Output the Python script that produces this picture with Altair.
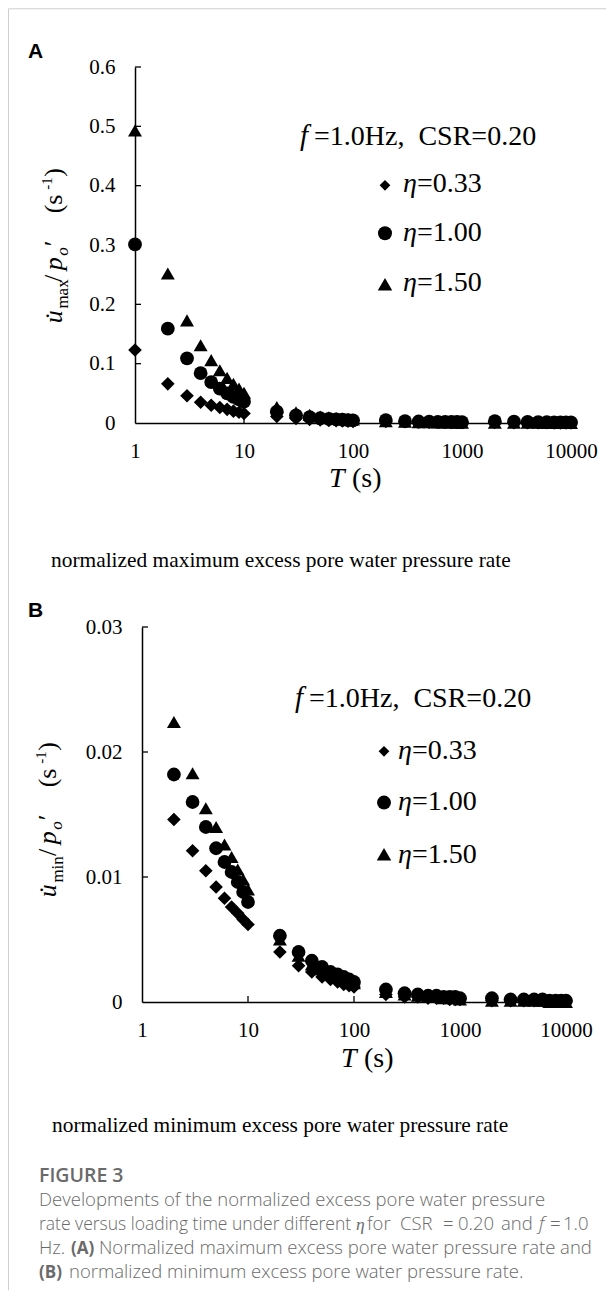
import altair as alt
import pandas as pd

# ---------------- data ----------------
T_A = [1, 2, 3, 4, 5, 6, 7, 8, 9, 10, 20, 30, 40, 50, 60, 70, 80, 90, 100,
       200, 300, 400, 500, 600, 700, 800, 900, 1000,
       2000, 3000, 4000, 5000, 6000, 7000, 8000, 9000, 10000]
T_B = T_A[1:]

A_eta033 = [0.123, 0.066, 0.046, 0.035, 0.030, 0.026, 0.023, 0.020, 0.018, 0.016,
            0.011, 0.0075, 0.006, 0.005, 0.0043, 0.0038, 0.0034, 0.003, 0.0028,
            0.0025, 0.002, 0.0017, 0.0015, 0.0013, 0.0012, 0.0011, 0.001, 0.001,
            0.0008, 0.0007, 0.0006, 0.0005, 0.0005, 0.0004, 0.0004, 0.0004, 0.0003]
A_eta100 = [0.301, 0.159, 0.109, 0.084, 0.069, 0.058, 0.050, 0.044, 0.040, 0.036,
            0.019, 0.013, 0.010, 0.008, 0.007, 0.006, 0.0055, 0.005, 0.0045,
            0.0049, 0.003, 0.0025, 0.0022, 0.002, 0.0019, 0.0018, 0.0017, 0.0016,
            0.003, 0.0022, 0.0018, 0.0015, 0.0013, 0.0012, 0.0011, 0.001, 0.001]
A_eta150 = [0.493, 0.252, 0.173, 0.131, 0.106, 0.089, 0.076, 0.066, 0.058, 0.051,
            0.027, 0.018, 0.014, 0.011, 0.0095, 0.0085, 0.0075, 0.007, 0.006,
            0.003, 0.002, 0.0015, 0.0012, 0.001, 0.0009, 0.0008, 0.0007, 0.0006,
            0.0005, 0.0004, 0.0003, 0.0003, 0.0002, 0.0002, 0.0002, 0.0002, 0.0001]

B_eta033 = [0.0146, 0.0121, 0.0105, 0.0092, 0.0083, 0.0076, 0.0071, 0.0066, 0.0062,
            0.0040, 0.0029, 0.0024, 0.0020, 0.0018, 0.0016, 0.0014, 0.0013, 0.0012,
            0.0006, 0.0004, 0.0004, 0.0003, 0.0003, 0.0003, 0.0002, 0.0002, 0.0002,
            0.0001, 0.0001, 0.0001, 0.0001, 0.0001, 0.0001, 0.0001, 0.0001, 0.0001]
B_eta100 = [0.0182, 0.0160, 0.0140, 0.0123, 0.0112, 0.0104, 0.0096, 0.0088, 0.0080,
            0.0053, 0.0040, 0.0033, 0.0028, 0.0024, 0.0022, 0.0020, 0.0018, 0.0016,
            0.0010, 0.0007, 0.0006, 0.0005, 0.0005, 0.0004, 0.0004, 0.0004, 0.0003,
            0.0003, 0.0002, 0.0002, 0.0002, 0.0002, 0.0001, 0.0001, 0.0001, 0.0001]
B_eta150 = [0.0224, 0.0183, 0.0155, 0.0140, 0.0126, 0.0116, 0.0106, 0.0098, 0.0090,
            0.0050, 0.0037, 0.0030, 0.0026, 0.0023, 0.0021, 0.0019, 0.0017, 0.0015,
            0.0008, 0.0006, 0.0005, 0.0004, 0.0004, 0.0003, 0.0003, 0.0003, 0.0002,
            0.0001, 0.0001, 0.0001, 0.0001, 0.0001, 0.0000, 0.0000, 0.0000, 0.0000]

SERIES = ["η=0.33", "η=1.00", "η=1.50"]
LEGEND_VALUES = ["0.33", "1.00", "1.50"]
SHAPES = ["diamond", "circle", "triangle-up"]
SIZES = [185, 195, 225]
LEG_SIZES = [115, 195, 210]

X_TICKS = [1, 10, 100, 1000, 10000]
Y_TICKS_A = [0, 0.1, 0.2, 0.3, 0.4, 0.5, 0.6]
Y_TICKS_B = [0, 0.01, 0.02, 0.03]

SERIF = "Liberation Serif"
SANS = "Open Sans"
NB = "\u00a0"

# ---------------- geometry (page px) ----------------
A_OX, A_OY = 135, 66.7          # panel A plot origin
B_OX, B_OY = 135, 626.7         # panel B group origin (axis drawn 7px right)
A_W, A_H = 436, 356
B_SHIFT, B_W, B_H = 7, 424, 375

# y-title piece offsets (px, along the text) measured on the reference
TITLE_OFFS = [0, 14.7, 41.3, 53, 67.5, 77, 110, 133.5, 146.5]


def frame(T, s033, s100, s150):
    rows = []
    for name, vals in ((SERIES[2], s150), (SERIES[1], s100), (SERIES[0], s033)):
        for t, v in zip(T, vals):
            rows.append({"T": t, "v": v, "series": name})
    return pd.DataFrame(rows)


def txt(s, x, y, ox, oy, size, font=SERIF, style="normal", weight="normal",
        color="black", align="left", angle=0, baseline="alphabetic"):
    return alt.Chart(pd.DataFrame({"t": [s]})).mark_text(
        align=align, baseline=baseline, font=font, fontSize=size,
        fontStyle=style, fontWeight=weight, color=color, angle=angle
    ).encode(text="t:N", x=alt.value(x - ox), y=alt.value(y - oy))


def sym(shape, size, x, y, ox, oy):
    return alt.Chart(pd.DataFrame({"k": [0]})).mark_point(
        shape=shape, size=size, filled=True, color="black", opacity=1, strokeWidth=0
    ).encode(x=alt.value(x - ox), y=alt.value(y - oy))


def rule(x1, y1, x2, y2, color="#cfcfcf", w=1.0):
    return alt.Chart(pd.DataFrame({"k": [0]})).mark_rule(color=color, strokeWidth=w).encode(
        x=alt.value(x1), x2=alt.value(x2), y=alt.value(y1), y2=alt.value(y2))


def ytitle(sub, base_x, start_y, ox, oy):
    M, S, P = 26, 17, 15
    pieces = [("u\u0307", M, True, 0), (sub, S, False, 6.5), ("/", M, False, 0),
              ("p", M, True, 0), ("o", S, True, 6), ("\u2032", M, False, 0),
              ("(s", M, False, 0), ("-1", P, False, -10), (")", M, False, 0)]
    layers = []
    for (t, s, it, sh), off in zip(pieces, TITLE_OFFS):
        layers.append(txt(t, base_x + sh, start_y - off, ox, oy, s,
                          style="italic" if it else "normal", angle=270))
    return layers


def panel(df, ox, oy, width, height, x_range, ydom, yticks, yfmt, y_offset,
          header, leg_x, leg_text_x, leg_ys, leg_base, sub, title_x, title_start,
          ttl_x, ttl_base, letter, letter_y):
    xs = alt.Scale(type="log", domain=[1, 10000], range=x_range)
    ys = alt.Scale(domain=ydom, nice=False, zero=True)
    lab_expr = "datum.value == 0 ? '0' : format(datum.value, '%s')" % yfmt
    x_axis = alt.Axis(
        values=X_TICKS, format="d", labelPadding=17, ticks=False, tickSize=0, grid=False,
        title=None, domainColor="black", domainWidth=1.5, labelFont=SERIF,
        labelFontSize=21, labelColor="black", labelFlush=False, labelOverlap=False)
    y_axis = alt.Axis(
        values=yticks, labelExpr=lab_expr, labelPadding=20, ticks=False, tickSize=0,
        grid=False, title=None, domainColor="black", domainWidth=1.5, labelFont=SERIF,
        labelFontSize=21, labelColor="black", offset=y_offset, labelOverlap=False)
    points = alt.Chart(df).mark_point(filled=True, opacity=1, color="black", strokeWidth=0).encode(
        x=alt.X("T:Q", scale=xs, axis=x_axis),
        y=alt.Y("v:Q", scale=ys, axis=y_axis),
        shape=alt.Shape("series:N", scale=alt.Scale(domain=SERIES, range=SHAPES), legend=None),
        size=alt.Size("series:N", scale=alt.Scale(domain=SERIES, range=SIZES), legend=None),
    )
    x0 = x_range[0]
    ytk = alt.Chart(pd.DataFrame({"v": [t for t in yticks if t > 0]})).mark_rule(
        color="black", strokeWidth=1.3).encode(
        y=alt.Y("v:Q", scale=ys, axis=y_axis), x=alt.value(x0), x2=alt.value(x0 + 6))
    xtk = alt.Chart(pd.DataFrame({"T": X_TICKS[1:]})).mark_rule(
        color="black", strokeWidth=1.3).encode(
        x=alt.X("T:Q", scale=xs, axis=x_axis), y=alt.value(height), y2=alt.value(height - 6))

    layers = [points, ytk, xtk]
    # header annotation
    layers.append(txt("f", header[0], header[2], ox, oy, 29, style="italic"))
    layers.append(txt("=1.0Hz," + NB + NB + "CSR=0.20", header[1], header[2], ox, oy, 28))
    # legend
    for shp, sz, val, ly, lb in zip(SHAPES, LEG_SIZES, LEGEND_VALUES, leg_ys, leg_base):
        layers.append(sym(shp, sz, leg_x, ly, ox, oy))
        layers.append(txt("η", leg_text_x, lb, ox, oy, 28, style="italic"))
        layers.append(txt("=" + val, leg_text_x + 14, lb, ox, oy, 28))
    # axis titles
    layers += ytitle(sub, title_x, title_start, ox, oy)
    layers.append(txt("T", ttl_x, ttl_base, ox, oy, 28, style="italic"))
    layers.append(txt("(s)", ttl_x + 23, ttl_base, ox, oy, 28))
    # panel letter
    layers.append(txt(letter, 28, letter_y, ox, oy, 21, font="Liberation Sans", weight="bold"))
    return layers, width, height


dfA = frame(T_A, A_eta033, A_eta100, A_eta150)
dfB = frame(T_B, B_eta033, B_eta100, B_eta150)

layersA, wA, hA = panel(
    dfA, A_OX, A_OY, A_W, A_H, [0, A_W], [0, 0.6], Y_TICKS_A, ".1f", 0,
    (300, 314, 145), 385, 403, (185, 233, 284), (191.7, 240.7, 290.7),
    "max", 61.7, 323, 329, 486.7, "A", 58)
# frame lines and sub-caption of panel A
layersA.append(rule(-126.5, -58.2, 606 - A_OX, -58.2))
layersA.append(rule(-126.5, -58.2, -126.5, 1290 - A_OY))
layersA.append(txt("normalized maximum excess pore water pressure rate", 51, 567, A_OX, A_OY, 21.4))

layersB, wB, hB = panel(
    dfB, B_OX, B_OY, B_SHIFT + B_W, B_H, [B_SHIFT, B_SHIFT + B_W], [0, 0.03], Y_TICKS_B, ".2f", -B_SHIFT,
    (295, 309, 706.7), 384, 398, (751, 802.3, 854), (758.3, 809.3, 862.7),
    "min", 56, 897, 341, 1066.7, "B", 617)
layersB.append(txt("normalized minimum excess pore water pressure rate", 52, 1132, B_OX, B_OY, 21.4))

GRAY = "#6a6a6a"
CAP = 18.5
L2 = 17.5
cap = [
    ("FIGURE 3", 39, 1182, 600, 19.5),
    ("Developments of the normalized excess pore water pressure", 39, 1205.7, 300, CAP),
    ("rate versus loading time under different", 39, 1230, 300, L2),
    ("for", 367, 1230, 300, CAP),
    ("CSR", 400, 1230, 300, CAP),
    ("=", 443, 1230, 300, CAP),
    ("0.20", 458, 1230, 300, CAP),
    ("and", 501, 1230, 300, CAP),
    ("=", 550, 1230, 300, CAP),
    ("1.0", 563, 1230, 300, CAP),
    ("Hz.", 39, 1253.3, 300, CAP),
    ("(A)", 71, 1253.3, 700, 17),
    ("Normalized maximum excess pore water pressure rate and", 99, 1253.3, 300, CAP),
    ("(B)", 39, 1278, 700, 17),
    ("normalized minimum excess pore water pressure rate.", 69, 1278, 300, CAP),
]
for s, x, y, w, fs in cap:
    layersB.append(txt(s, x, y, B_OX, B_OY, fs, font=SANS, weight=w, color=GRAY))
layersB.append(txt("η", 356, 1230, B_OX, B_OY, 17.5, font=SERIF, style="italic", color=GRAY))
layersB.append(txt("f", 539, 1230, B_OX, B_OY, 18.5, font=SANS, style="italic", weight=300, color=GRAY))

chartA = alt.layer(*layersA).properties(width=wA, height=hA)
chartB = alt.layer(*layersB).properties(width=wB, height=hB)

chart = alt.vconcat(chartA, chartB, spacing=204, bounds="flush", padding=0).configure_view(
    stroke=None)

chart.save("out.html", embed_options={"renderer": "svg", "actions": False})
